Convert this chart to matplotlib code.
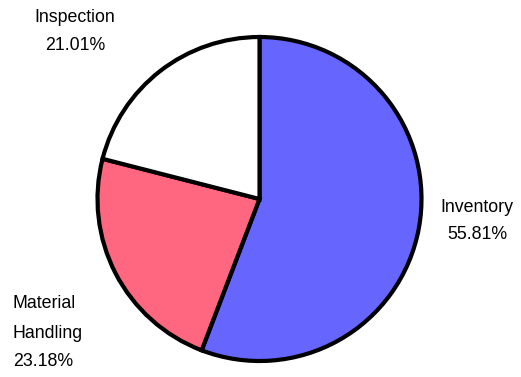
import matplotlib
matplotlib.use('Agg')
import matplotlib.pyplot as plt

labels = ['Inventory', 'Material Handling', 'Inspection']
shares = [55.81, 23.18, 21.01]
colors = ['#6666ff', '#ff6680', '#ffffff']

plt.rcParams['font.family'] = ['Liberation Sans', 'DejaVu Sans']

W, H = 521, 377
fig = plt.figure(figsize=(W / 100, H / 100), dpi=100)

# pie centre and radius in pixels
cx, cy, r = 259.5, 199, 162
ax = fig.add_axes([(cx - r) / W, (H - cy - r) / H, 2 * r / W, 2 * r / H])
ax.pie(shares, colors=colors, startangle=90, counterclock=False,
       wedgeprops=dict(edgecolor='black', linewidth=3))
ax.set_xlim(-1, 1)
ax.set_ylim(-1, 1)
ax.set_aspect('equal')
ax.axis('off')

fs = 12.8
# Inspection
fig.text(75 / W, 1 - 18 / H, labels[2], ha='center', va='center', fontsize=fs)
fig.text(75 / W, 1 - 46 / H, '%.2f%%' % shares[2], ha='center', va='center', fontsize=fs)
# Inventory
fig.text(477 / W, 1 - 207 / H, labels[0], ha='center', va='center', fontsize=fs)
fig.text(477 / W, 1 - 235 / H, '%.2f%%' % shares[0], ha='center', va='center', fontsize=fs)
# Material Handling
word1, word2 = labels[1].split()
fig.text(13 / W, 1 - 304 / H, word1, ha='left', va='center', fontsize=fs)
fig.text(13 / W, 1 - 333 / H, word2, ha='left', va='center', fontsize=fs)
fig.text(13 / W, 1 - 362 / H, '%.2f%%' % shares[1], ha='left', va='center', fontsize=fs)

fig.savefig('out.png', dpi=100)
